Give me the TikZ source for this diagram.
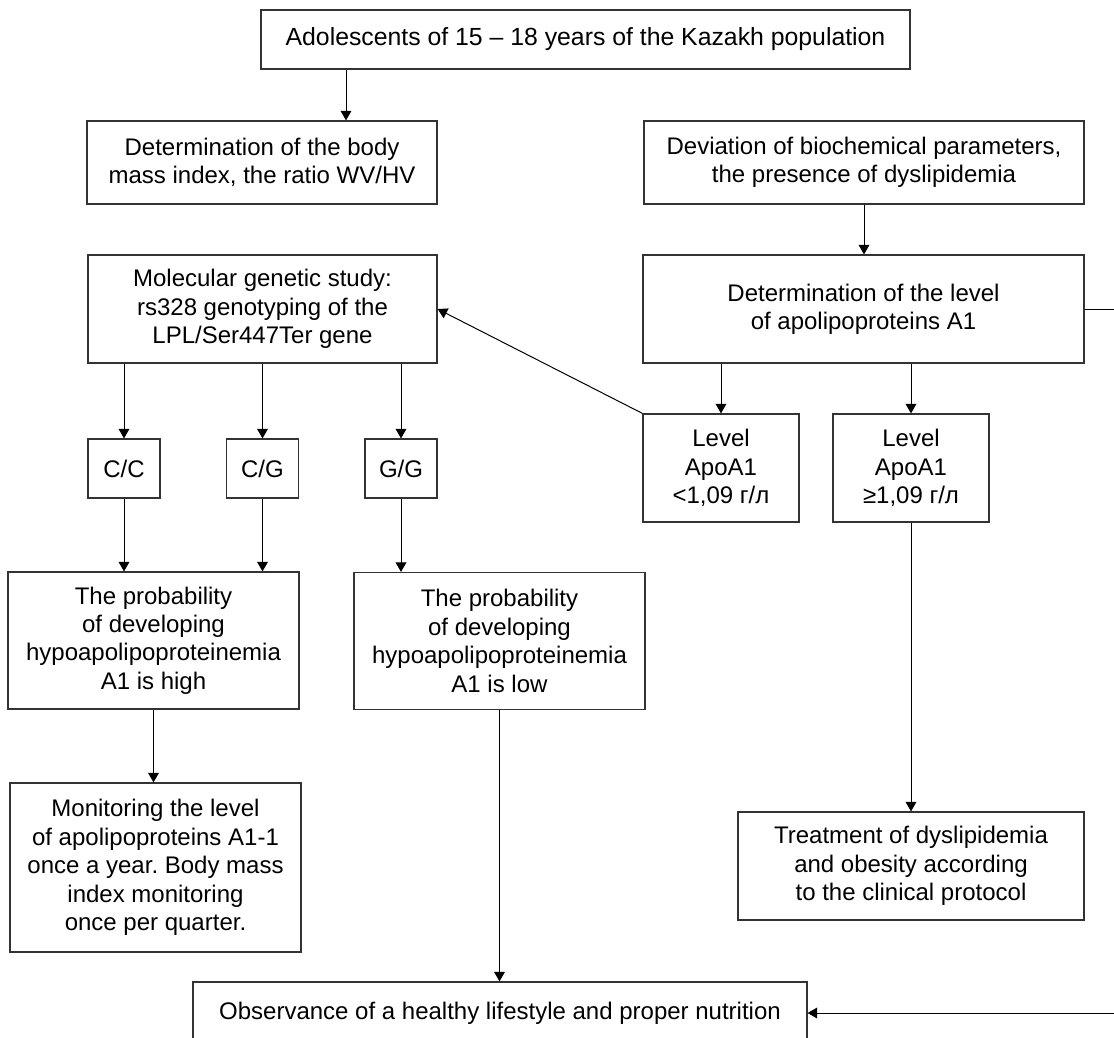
\documentclass[tikz,border=0pt]{standalone}
\usepackage{fontspec}
\setmainfont{Liberation Sans}
\frenchspacing
\usetikzlibrary{arrows.meta}
\begin{document}
\begin{tikzpicture}[x=0.5pt,y=-0.5pt,->,>={Triangle[length=4.8pt,width=5.4pt]},
  line width=0.5pt,font=\fontsize{12}{14.2}\selectfont,
  box node/.style={rectangle,draw=black!80,align=center,inner sep=0pt,line width=0.6pt},
  gene node/.style={box node,minimum width=36pt,minimum height=29.5pt},
  level node/.style={box node,minimum width=78pt,minimum height=54pt},
  prob node/.style={box node,minimum width=145.5pt,minimum height=68.5pt}]

  \useasboundingbox (0,0) rectangle (1114,1038);

  \node[box node,minimum width=324.5pt,minimum height=29.5pt,
    font=\fontsize{12.4}{14.2}\selectfont] (adol) at (585.5,39.5)
    {Adolescents of 15 – 18 years of the Kazakh population};
  \node[box node,minimum width=175pt,minimum height=41.5pt] (bmi) at (262,162.5)
    {Determination of the body\\mass index, the ratio WV/HV};
  \node[box node,minimum width=220pt,minimum height=41.5pt] (dev) at (864,162.5)
    {Deviation of biochemical parameters,\\the presence of dyslipidemia};
  \node[box node,minimum width=220.5pt,minimum height=54pt] (apo) at (863.5,309)
    {Determination of the level\\of apolipoproteins A1};
  \node[box node,minimum width=174.5pt,minimum height=54pt] (mol) at (262.5,309)
    {Molecular genetic study:\\rs328 genotyping of the\\LPL/Ser447Ter gene};
  \node[gene node] (cc) at (124,468.5) {C/C};
  \node[gene node] (cg) at (262.5,468.5) {C/G};
  \node[gene node] (gg) at (401,468.5) {G/G};
  \node[level node] (lo) at (721,468) {Level\\ApoA1\\<1,09 г/л};
  \node[level node] (hi) at (911,468) {Level\\ApoA1\\≥1,09 г/л};
  \node[prob node] (pH) at (153.5,640.5)
    {The probability\\of developing\\hypoapolipoproteinemia\\A1 is high};
  \node[prob node] (pL) at (499.5,641)
    {The probability\\of developing\\hypoapolipoproteinemia\\A1 is low};
  \node[box node,minimum width=145.5pt,minimum height=84.5pt] (mon) at (155.5,867.5)
    {Monitoring the level\\of apolipoproteins A1-1\\once a year. Body mass\\index monitoring\\once per quarter.};
  \node[box node,minimum width=173pt,minimum height=54pt] (treat) at (911,866)
    {Treatment of dyslipidemia\\and obesity according\\to the clinical protocol};
  \node[box node,minimum width=307pt,minimum height=31pt] (obs) at (500,1013)
    {Observance of a healthy lifestyle and proper nutrition};
  \coordinate (rc) at (1124,1013);

  \path
  ([xshift=42pt]bmi.north |- adol.south) edge ([xshift=42pt]bmi.north)
  (dev.south) edge (dev.south |- apo.north)
  (mol.south -| cc) edge (cc)
  (mol.south -| cg) edge (cg)
  (mol.south -| gg) edge (gg)
  (apo.south -| lo) edge (lo)
  (apo.south -| hi) edge (hi)
  (lo.north west) edge (mol.east)
  (cc) edge (cc |- pH.north)
  (cg) edge (cg |- pH.north)
  (gg) edge (gg |- pL.north)
  (pH) edge (pH |- mon.north)
  (pL) edge (pL |- obs.north)
  (hi) edge (hi |- treat.north);
  \draw (apo.east) -| (rc) -- (obs.east);

\end{tikzpicture}
\end{document}
